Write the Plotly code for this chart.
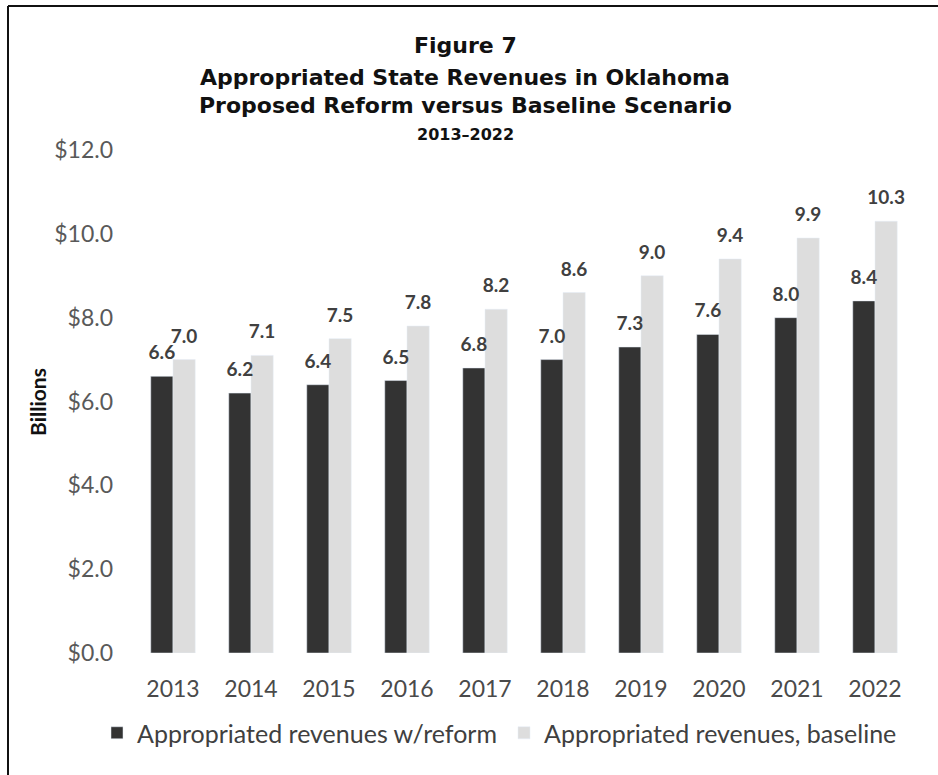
import plotly.graph_objects as go

years = ["2013", "2014", "2015", "2016", "2017", "2018", "2019", "2020", "2021", "2022"]
reform = [6.6, 6.2, 6.4, 6.5, 6.8, 7.0, 7.3, 7.6, 8.0, 8.4]
baseline = [7.0, 7.1, 7.5, 7.8, 8.2, 8.6, 9.0, 9.4, 9.9, 10.3]
name_reform = "Appropriated revenues w/reform"
name_base = "Appropriated revenues, baseline"
y_ticks = [0, 2, 4, 6, 8, 10, 12]
y_ticktext = [f"${v:.1f}" for v in y_ticks]

W, H = 938, 775
L, R, T, B = 134, 24, 150, 122


def px_x(x):
    return (x - L) / (W - L - R)


def px_y(y):
    return 1 - (y - T) / (H - T - B)


DARK = "#333333"
LIGHT = "#dddddd"
TXT = "#404040"

fig = go.Figure()
fig.add_trace(go.Bar(x=years, y=reform, name=name_reform, marker_color=DARK,
                     offsetgroup="a", hoverinfo="skip", legend="legend"))
fig.add_trace(go.Bar(x=years, y=baseline, name=name_base, marker_color=LIGHT,
                     offsetgroup="b", hoverinfo="skip", legend="legend2"))
# value labels aligned with the bar groups
for vals, grp in ((reform, "a"), (baseline, "b")):
    fig.add_trace(go.Scatter(
        x=years, y=vals, mode="markers+text", offsetgroup=grp,
        text=[f"{v:.1f}" for v in vals], textposition="top center",
        textfont=dict(family="Lato", size=19, color=TXT, weight="bold"),
        marker=dict(size=18, opacity=0), showlegend=False, hoverinfo="skip",
        cliponaxis=False))

annos = [
    dict(text="<b>Figure 7</b>", y=45, size=22),
    dict(text="<b>Appropriated State Revenues in Oklahoma</b>", y=78, size=22),
    dict(text="<b>Proposed Reform versus Baseline Scenario</b>", y=105, size=22),
    dict(text="<b>2013–2022</b>", y=135, size=16),
]
annotations = []
for a in annos:
    annotations.append(dict(
        text=a["text"], xref="paper", yref="paper", x=px_x(465), y=px_y(a["y"]),
        xanchor="center", yanchor="middle", showarrow=False,
        font=dict(family="DejaVu Sans", size=a["size"], color="#111111")))
annotations.append(dict(
    text="<b>Billions</b>", xref="paper", yref="paper", x=px_x(37), y=px_y(402),
    xanchor="center", yanchor="middle", showarrow=False, textangle=-90,
    font=dict(family="Lato", size=21, color="#111111")))

shapes = [
    dict(type="line", xref="paper", yref="paper", x0=px_x(8), x1=px_x(W + 5),
         y0=px_y(6), y1=px_y(6), line=dict(color="#111111", width=2)),
    dict(type="line", xref="paper", yref="paper", x0=px_x(8), x1=px_x(8),
         y0=px_y(6), y1=px_y(H + 5), line=dict(color="#111111", width=2)),
]

leg_common = dict(orientation="h", xref="container", yref="container",
                  xanchor="left", y=1 - 733 / H, yanchor="middle",
                  font=dict(family="Lato", size=25, color=TXT),
                  bgcolor="rgba(0,0,0,0)",
                  itemclick=False, itemdoubleclick=False)

fig.update_layout(
    width=W, height=H,
    margin=dict(l=L, r=R, t=T, b=B, autoexpand=False),
    paper_bgcolor="white", plot_bgcolor="white",
    barmode="group", bargap=0.43, bargroupgap=0,
    scattermode="group", scattergap=0.43,
    font=dict(family="Lato", color=TXT),
    showlegend=True,
    legend=dict(x=97 / W, **leg_common),
    legend2=dict(x=504 / W, **leg_common),
    annotations=annotations,
    shapes=shapes,
    xaxis=dict(showgrid=False, showline=False, zeroline=False, ticks="",
               tickfont=dict(family="Lato", size=23, color="#4a4a4a"),
               ticklabelstandoff=20),
    yaxis=dict(range=[0, 12], tickvals=y_ticks, ticktext=y_ticktext,
               showgrid=False, showline=False, zeroline=False, ticks="",
               tickfont=dict(family="Lato", size=23, color="#595959"),
               ticklabelstandoff=20),
)

fig.write_html("out.html", config={"displayModeBar": False},
               post_script="document.body.style.margin='0';document.body.style.overflow='hidden';")
